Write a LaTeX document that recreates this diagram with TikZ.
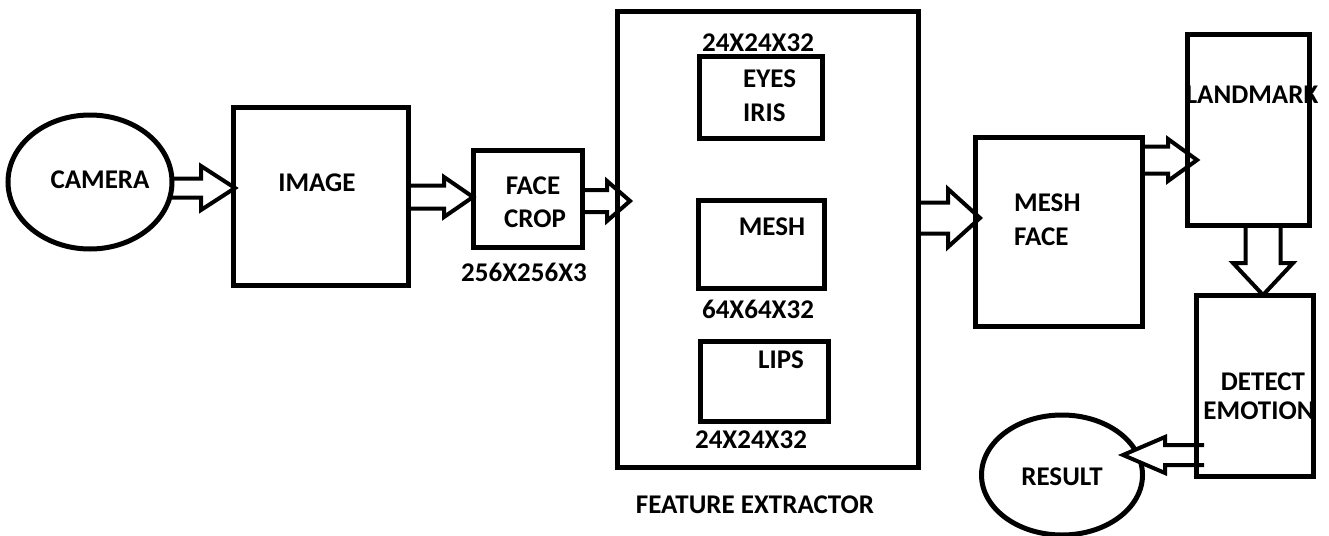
\documentclass[tikz,border=0pt]{standalone}
\usepackage{fontspec}
\setmainfont{Carlito}
\usetikzlibrary{calc,shapes.geometric,backgrounds}
\newcommand\harrow[5]{%
  \draw[blockarrow] ($(#1)+(0,-#3)$) -- ($(#2)+(-#5,-#3)$) -- ($(#2)+(-#5,-#4)$) -- (#2)
    -- ($(#2)+(-#5,#4)$) -- ($(#2)+(-#5,#3)$) -- ($(#1)+(0,#3)$);}
\newcommand\varrow[5]{%
  \draw[blockarrow] ($(#1)+(-#3,0)$) -- ($(#2)+(-#3,-#5)$) -- ($(#2)+(-#4,-#5)$) -- (#2)
    -- ($(#2)+(#4,-#5)$) -- ($(#2)+(#3,-#5)$) -- ($(#1)+(#3,0)$);}
\begin{document}
\begin{tikzpicture}[x=1pt,y=-1pt,
  box/.style={draw,line width=5pt,inner sep=0pt,outer sep=0pt,anchor=north west},
  oval/.style={draw,line width=5pt,ellipse,inner sep=0pt,outer sep=0pt},
  blockarrow/.style={draw,line width=4pt,fill=white,line join=miter},
  lbl/.style={font=\fontsize{27}{30}\selectfont\bfseries,inner sep=0pt}]
\useasboundingbox (0,0) rectangle (1329,535);
% shapes
\node[oval,minimum width=164pt,minimum height=134pt] (cam) at (90,182) {};
\node[box,minimum width=175pt,minimum height=178pt] (img) at (233,107) {};
\node[box,minimum width=109pt,minimum height=97pt] (face) at (473,150) {};
\node[box,minimum width=301pt,minimum height=455pt] (fe) at (617,12) {};
\node[box,minimum width=123pt,minimum height=81pt] (eyes) at (699,57) {};
\node[box,minimum width=126pt,minimum height=88pt] (meshb) at (698,200) {};
\node[box,minimum width=128pt,minimum height=80pt] (lips) at (700,341) {};
\node[box,minimum width=167pt,minimum height=189pt] (meshface) at (975,137) {};
\node[box,minimum width=122pt,minimum height=190pt] (land) at (1187,35) {};
\node[box,minimum width=117pt,minimum height=181pt] (detect) at (1196,295) {};
\node[oval,minimum width=161pt,minimum height=120pt] (result) at (1062,475) {};
% arrow end points
\coordinate (a1s) at (cam.east |- 0,188);  \coordinate (a1e) at ($(img.west |- 0,188)+(2,0)$);
\coordinate (a2s) at (img.east |- 0,197);  \coordinate (a2e) at (face.west |- 0,197);
\coordinate (a3s) at (face.east |- 0,201); \coordinate (a3e) at ($(fe.west |- 0,201)+(13,0)$);
\coordinate (a4s) at (fe.east |- 0,218);   \coordinate (a4e) at ($(meshface.west |- 0,218)+(5,0)$);
\coordinate (a5s) at (meshface.east |- 0,160); \coordinate (a5e) at ($(land.west |- 0,160)+(10,0)$);
\coordinate (a6s) at (land.south -| 1263,0); \coordinate (a6e) at (detect.north -| 1263,0);
\coordinate (a7s) at ($(detect.west |- 0,455)+(8,0)$); \coordinate (a7e) at (1123,455);
\begin{scope}[on background layer]
\harrow{a1s}{a1e}{9.5}{22}{34}
\harrow{a2s}{a2e}{11.5}{20}{29}
\harrow{a3s}{a3e}{11}{20}{23}
\harrow{a4s}{a4e}{15.5}{29}{32}
\harrow{a5s}{a5e}{13.5}{21}{29}
\varrow{a6s}{a6e}{17.5}{30}{32}
\end{scope}
\harrow{a7s}{a7e}{10}{18}{-42}
\draw[line width=5pt] ($(detect.north west)+(0,140)$) -- (detect.south west);
% texts
\node[lbl] (tcam) at (100,180) {CAMERA};
\node[lbl] (timg) at (317,183) {IMAGE};
\node[lbl] (tface1) at (533,186) {FACE};
\node[lbl] (tface2) at (535,219) {CROP};
\node[lbl] (tdim1) at (524,272) {256X256X3};
\node[lbl] (tdim2) at (758,43) {24X24X32};
\node[lbl,anchor=west] (teyes) at (743,79) {EYES};
\node[lbl,anchor=west] (tiris) at (743,113) {IRIS};
\node[lbl] (tmesh) at (772,227) {MESH};
\node[lbl] (tdim3) at (758,309) {64X64X32};
\node[lbl] (tlips) at (781,360) {LIPS};
\node[lbl] (tdim4) at (751,440) {24X24X32};
\node[lbl] (tfe) at (755,505) {FEATURE EXTRACTOR};
\node[lbl,anchor=west] (tmf1) at (1014,203) {MESH};
\node[lbl,anchor=west] (tmf2) at (1014,237) {FACE};
\node[lbl] (tland) at (1252,95) {LANDMARK};
\node[lbl] (tdet1) at (1263,382) {DETECT};
\node[lbl] (tdet2) at (1259,411) {EMOTION};
\node[lbl] (tres) at (1062,477) {RESULT};
\end{tikzpicture}
\end{document}
